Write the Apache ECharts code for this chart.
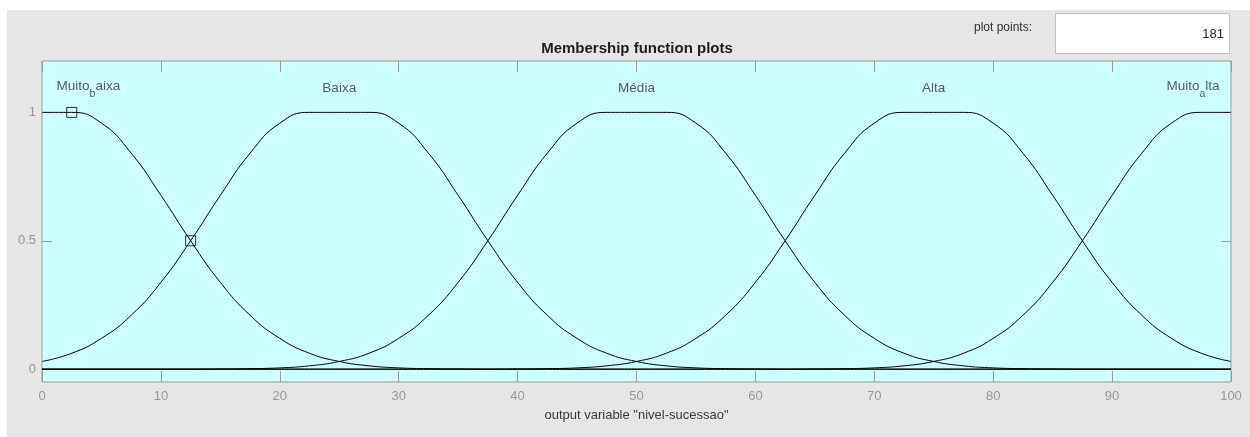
<!DOCTYPE html>
<html>
<head>
<meta charset="utf-8">
<script src="https://cdn.jsdelivr.net/npm/echarts@6/dist/echarts.min.js"></script>
<style>
  html, body { margin: 0; padding: 0; background: #ffffff; }
  #wrap { position: relative; width: 1250px; height: 437px; overflow: hidden; }
  #panel { position: absolute; left: 7px; top: 10px; width: 1243px; height: 427px; background: #e6e6e6; }
  #chart { position: absolute; left: 0; top: 0; width: 1250px; height: 437px; }
</style>
</head>
<body>
<div id="wrap"><div id="panel"></div><div id="chart"></div></div>
<script>
// x positions of the sampled points (output variable)
const xValues = [0, 2.5, 5, 7.5, 10, 12.5, 15, 17.5, 20, 22.5, 25, 27.5, 30, 32.5, 35, 37.5, 40, 42.5, 45, 47.5,
  50, 52.5, 55, 57.5, 60, 62.5, 65, 67.5, 70, 72.5, 75, 77.5, 80, 82.5, 85, 87.5, 90, 92.5, 95, 97.5, 100];

// membership degrees
const muitoBaixa = [1, 1, 0.958, 0.841, 0.677, 0.5, 0.338, 0.21, 0.12, 0.062, 0.03, 0.013, 0.005, 0.002, 0.001, 0,
  0, 0, 0, 0, 0, 0, 0, 0, 0, 0, 0, 0, 0, 0, 0, 0, 0, 0, 0, 0, 0, 0, 0, 0, 0];
const baixa = [0.03, 0.062, 0.12, 0.21, 0.338, 0.5, 0.677, 0.841, 0.958, 1, 1, 1, 0.958, 0.841, 0.677, 0.5, 0.338,
  0.21, 0.12, 0.062, 0.03, 0.013, 0.005, 0.002, 0.001, 0, 0, 0, 0, 0, 0, 0, 0, 0, 0, 0, 0, 0, 0, 0, 0];
const media = [0, 0, 0, 0, 0, 0, 0.001, 0.002, 0.005, 0.013, 0.03, 0.062, 0.12, 0.21, 0.338, 0.5, 0.677, 0.841,
  0.958, 1, 1, 1, 0.958, 0.841, 0.677, 0.5, 0.338, 0.21, 0.12, 0.062, 0.03, 0.013, 0.005, 0.002, 0.001, 0, 0, 0, 0, 0, 0];
const alta = [0, 0, 0, 0, 0, 0, 0, 0, 0, 0, 0, 0, 0, 0, 0, 0, 0.001, 0.002, 0.005, 0.013, 0.03, 0.062, 0.12, 0.21,
  0.338, 0.5, 0.677, 0.841, 0.958, 1, 1, 1, 0.958, 0.841, 0.677, 0.5, 0.338, 0.21, 0.12, 0.062, 0.03];
const muitoAlta = [0, 0, 0, 0, 0, 0, 0, 0, 0, 0, 0, 0, 0, 0, 0, 0, 0, 0, 0, 0, 0, 0, 0, 0, 0, 0, 0.001, 0.002,
  0.005, 0.013, 0.03, 0.062, 0.12, 0.21, 0.338, 0.5, 0.677, 0.841, 0.958, 1, 1];

// MF labels (rich text for MATLAB-style subscripts) and their anchor positions
const mfLabels = ['{a|Muito}{b|b}{a|aixa}', '{m|Baixa}', '{m|Média}', '{m|Alta}', '{a|Muito}{b|a}{a|lta}'];
const labelX = [3.9, 25, 50, 75, 96.8];
const labelY = [1.088, 1.094, 1.094, 1.094, 1.088];

// selected-MF handle markers
const markerX = [2.5, 12.5];
const markerY = [1, 0.5];

// axis ticks
const xTickInterval = 10;
const yTicks = [0, 0.5, 1];

const titleText = 'Membership function plots';
const xAxisName = 'output variable "nivel-sucessao"';
const plotPointsLabel = 'plot points:';
const plotPointsValue = '181';

const FONT = 'Liberation Sans, Arial, sans-serif';

const seriesData = [muitoBaixa, baixa, media, alta, muitoAlta];
const lineSeries = seriesData.map((arr, k) => ({
  type: 'line',
  name: 'mf' + k,
  data: xValues.map((x, i) => [x, arr[i]]),
  showSymbol: false,
  smooth: true,
  silent: true,
  lineStyle: { color: '#000', width: 1 },
  z: 3
}));

const chart = echarts.init(document.getElementById('chart'), null, { renderer: 'canvas' });
const axisGrey = '#9a9a9a';
const option = {
  animation: false,
  backgroundColor: 'transparent',
  textStyle: { fontFamily: FONT },
  grid: {
    left: 42, right: 19, top: 61, bottom: 55,
    show: true, backgroundColor: '#ccffff', borderColor: axisGrey, borderWidth: 1
  },
  xAxis: [{
    type: 'value', min: 0, max: 100, interval: xTickInterval, position: 'bottom',
    axisLine: { show: false, onZero: false },
    axisTick: { show: true, inside: true, length: 11, lineStyle: { color: axisGrey } },
    axisLabel: { color: '#999', fontSize: 13, margin: 8, fontFamily: FONT },
    splitLine: { show: false },
    name: xAxisName, nameLocation: 'middle', nameGap: 27,
    nameTextStyle: { color: '#3a3a3a', fontSize: 13, fontFamily: FONT }
  }, {
    type: 'value', min: 0, max: 100, interval: xTickInterval, position: 'top',
    axisLine: { show: false, onZero: false },
    axisTick: { show: true, inside: true, length: 11, lineStyle: { color: axisGrey } },
    axisLabel: { show: false },
    splitLine: { show: false }
  }],
  yAxis: [{
    type: 'value', min: -0.05, max: 1.2, position: 'left',
    axisLine: { show: false, onZero: false },
    axisTick: { show: true, inside: true, length: 10, customValues: yTicks, lineStyle: { color: axisGrey } },
    axisLabel: { color: '#999', fontSize: 13, margin: 6, customValues: yTicks, fontFamily: FONT },
    splitLine: { show: false }
  }, {
    type: 'value', min: -0.05, max: 1.2, position: 'right',
    axisLine: { show: false, onZero: false },
    axisTick: { show: true, inside: true, length: 10, customValues: yTicks, lineStyle: { color: axisGrey } },
    axisLabel: { show: false },
    splitLine: { show: false }
  }],
  series: lineSeries.concat([
    {
      type: 'scatter', name: 'markers',
      data: markerX.map((x, i) => [x, markerY[i]]),
      symbol: 'rect', symbolSize: 10, silent: true,
      itemStyle: { color: 'rgba(0,0,0,0)', borderColor: '#000', borderWidth: 1 },
      z: 5
    },
    {
      type: 'scatter', name: 'labels',
      data: labelX.map((x, i) => ({ value: [x, labelY[i]], label: { formatter: mfLabels[i] } })),
      symbolSize: 0, silent: true,
      label: {
        show: true, position: 'inside',
        rich: {
          m: { fontSize: 13.5, color: '#333', lineHeight: 14, fontFamily: FONT },
          a: { fontSize: 13.5, color: '#333', lineHeight: 14, verticalAlign: 'top', fontFamily: FONT },
          b: { fontSize: 10.5, color: '#333', lineHeight: 20, verticalAlign: 'bottom', fontFamily: FONT }
        }
      },
      z: 6
    }
  ]),
  graphic: [
    {
      type: 'text', x: 637, y: 49,
      style: { text: titleText, fontSize: 15, fontWeight: 'bold', fill: '#1e1e1e', align: 'center', verticalAlign: 'middle', fontFamily: FONT }
    },
    {
      type: 'text', x: 1032, y: 28,
      style: { text: plotPointsLabel, fontSize: 12, fill: '#333', align: 'right', verticalAlign: 'middle', fontFamily: FONT }
    },
    {
      type: 'rect', shape: { x: 1055.5, y: 13.5, width: 174, height: 40 },
      style: { fill: '#ffffff', stroke: '#c0c0c0', lineWidth: 1 }
    },
    {
      type: 'text', x: 1224, y: 34,
      style: { text: plotPointsValue, fontSize: 13, fill: '#222', align: 'right', verticalAlign: 'middle', fontFamily: FONT }
    }
  ]
};
chart.setOption(option);
</script>
</body>
</html>
